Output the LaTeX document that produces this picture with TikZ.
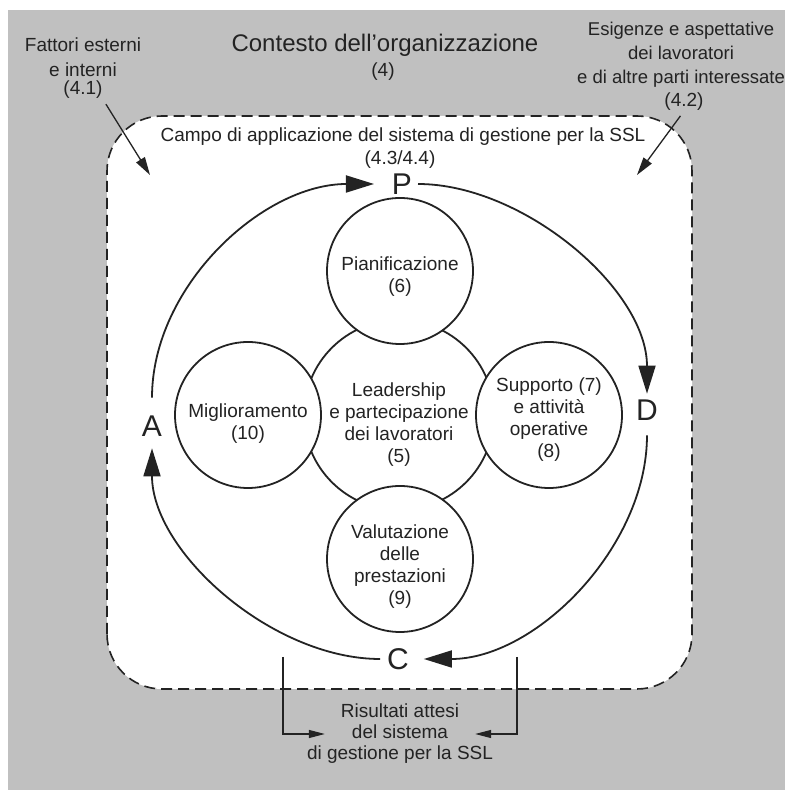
\documentclass[tikz,border=0pt]{standalone}
\usepackage{fontspec}
\setmainfont{Liberation Sans}
\usetikzlibrary{arrows.meta}
\definecolor{bggray}{RGB}{192,192,192}
\definecolor{ink}{RGB}{35,35,35}
\begin{document}
\begin{tikzpicture}[x=1pt,y=1pt,
  txt/.style={font=\fontsize{19}{22}\selectfont, text=ink, align=center, inner sep=0pt},
  title/.style={font=\fontsize{24}{28}\selectfont, text=ink, inner sep=0pt},
  letter/.style={font=\fontsize{30}{30}\selectfont, text=ink, inner sep=0pt, outer sep=0pt},
  sat/.style={circle, draw=ink, line width=1.8pt, fill=white, minimum size=146pt, inner sep=0pt},
  hub/.style={circle, draw=ink, line width=1.8pt, minimum size=190pt, inner sep=0pt},
  cyc/.style={draw=ink, line width=1.8pt, -{Triangle[length=28pt,width=17pt]}},
  pointer/.style={draw=ink, line width=1.3pt, -{Triangle[length=18pt,width=10pt]}},
  bracket/.style={draw=ink, line width=1.2pt, -{Triangle[length=16pt,width=8pt]}},
  border/.style={draw=ink, line width=1.6pt, dash pattern=on 11pt off 6pt, fill=white, rounded corners=55pt}
]
\useasboundingbox (0,0) rectangle (785,790);
\fill[bggray] (8,0) rectangle (785,780);
\draw[border] (107,101) rectangle (692,674);

% outer texts
\node[title] (ctx) at (385,745) {Contesto dell'organizzazione};
\node[txt] (ctx4) at (383,718) {(4)};
\node[txt, font=\fontsize{19}{25}\selectfont] (ext) at (83,732.5) {Fattori esterni\\e interni};
\node[txt] (ext41) at (83,700) {(4.1)};
\node[txt, font=\fontsize{18.5}{24}\selectfont] (esi) at (681,735) {Esigenze e aspettative\\dei lavoratori\\e di altre parti interessate};
\node[txt] (esi42) at (684,688) {(4.2)};
\node[txt] (campo) at (403,653) {Campo di applicazione del sistema di gestione per la SSL};
\node[txt] (campo2) at (400,630) {(4.3/4.4)};
\node[txt, font=\fontsize{19}{21}\selectfont] (res) at (400,56) {Risultati attesi\\del sistema\\di gestione per la SSL};

% circles
\node[hub] (lead) at (399,375) {};
\node[sat] (pian) at (400,519) {};
\node[sat] (valu) at (400,231) {};
\node[sat] (migl) at (248,375) {};
\node[sat] (supp) at (549,375) {};
\node[txt] (tpian) at ([yshift=-6pt]pian.center) {Pianificazione\\(6)};
\node[txt] (tlead) at ([yshift=-10pt]lead.center) {Leadership\\e partecipazione\\dei lavoratori\\(5)};
\node[txt] (tmigl) at ([yshift=-9pt]migl.center) {Miglioramento\\(10)};
\node[txt] (tsupp) at ([yshift=-5pt]supp.center) {Supporto (7)\\e attività\\operative\\(8)};
\node[txt] (tvalu) at ([yshift=-8pt]valu.center) {Valutazione\\delle\\prestazioni\\(9)};

% PDCA letters
\node[letter] (P) at (402,606) {P};
\node[letter] (D) at (647,380) {D};
\node[letter] (C) at (398,131) {C};
\node[letter] (A) at (152,364) {A};

\draw[cyc, shorten <=18pt, shorten >=18pt] (A) to[out=90,in=180,looseness=0.99] (P);
\draw[cyc, shorten <=6pt, shorten >=6pt] (P) to[out=0,in=90,looseness=0.89] (D);
\draw[cyc, shorten <=15pt, shorten >=15pt] (D) to[out=-90,in=0,looseness=0.96] (C);
\draw[cyc, shorten <=7pt, shorten >=12pt] (C) to[out=180,in=-90,looseness=0.91] (A);

% pointers
\coordinate (f1tip) at (150,615);
\coordinate (f2tip) at (637,615);
\draw[pointer, shorten <=6pt] (ext41.south east) -- (f1tip);
\draw[pointer, shorten <=6pt] (esi42.south) -- (f2tip);

% bracket arrows to results
\coordinate (bl) at (283,133);
\coordinate (br) at (517,133);
\draw[bracket] (bl) |- ([xshift=18pt]res.west);
\draw[bracket] (br) |- ([xshift=-18pt]res.east);
\end{tikzpicture}
\end{document}
